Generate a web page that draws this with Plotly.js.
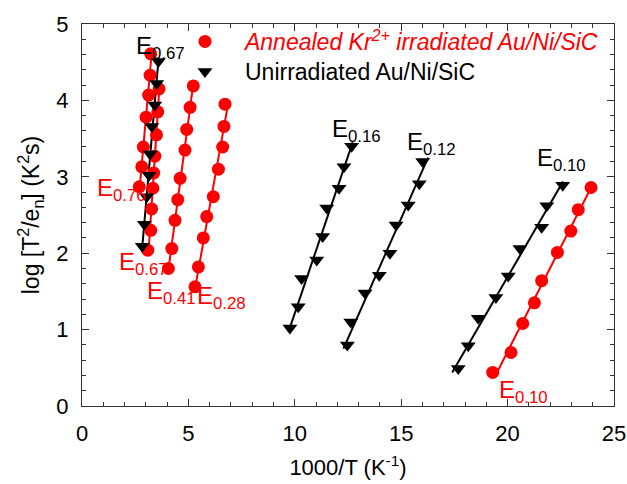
<!DOCTYPE html>
<html><head><meta charset="utf-8">
<script src="https://cdn.plot.ly/plotly-3.0.1.min.js"></script>
<style>html,body{margin:0;padding:0;background:#fff;}#chart{width:627px;height:484px;}</style>
</head><body><div id="chart"></div>
<script>
// Annealed Kr2+ irradiated (red circles)
const redE076_x = [2.69, 2.81, 2.88, 3.01, 3.13, 3.20, 3.23];
const redE076_y = [2.87, 3.13, 3.39, 3.78, 4.07, 4.33, 4.61];
const redE067_x = [3.09, 3.23, 3.27, 3.33, 3.37, 3.42, 3.50, 3.56, 3.62];
const redE067_y = [2.04, 2.30, 2.58, 2.85, 3.05, 3.27, 3.55, 3.85, 4.15];
const redE041_x = [4.06, 4.22, 4.37, 4.50, 4.61, 4.84, 4.92, 5.08, 5.23];
const redE041_y = [1.80, 2.06, 2.43, 2.70, 2.98, 3.35, 3.62, 3.91, 4.19];
const redE028_x = [5.31, 5.47, 5.70, 5.86, 6.17, 6.41, 6.61, 6.67, 6.72];
const redE028_y = [1.56, 1.82, 2.20, 2.48, 2.74, 3.10, 3.39, 3.66, 3.95];
const redE010_x = [19.30, 20.16, 20.71, 21.26, 21.60, 22.34, 22.97, 23.32, 23.92];
const redE010_y = [0.44, 0.70, 1.08, 1.35, 1.64, 2.01, 2.29, 2.57, 2.86];
// Unirradiated (black triangles)
const blkE067_x = [2.83, 2.93, 3.04, 3.15, 3.20, 3.28, 3.42, 3.51, 3.59];
const blkE067_y = [2.09, 2.38, 2.74, 3.02, 3.30, 3.66, 3.94, 4.22, 4.51];
const blkE016_x = [9.77, 10.16, 10.32, 11.03, 11.31, 11.50, 12.08, 12.31, 12.67];
const blkE016_y = [1.02, 1.30, 1.67, 1.91, 2.22, 2.59, 2.85, 3.13, 3.40];
const blkE012_x = [12.47, 12.63, 13.30, 13.97, 14.47, 14.76, 15.33, 15.85, 16.01];
const blkE012_y = [0.80, 1.10, 1.48, 1.71, 2.00, 2.37, 2.63, 2.91, 3.20];
const blkE010_x = [17.68, 18.15, 18.62, 19.45, 20.03, 20.58, 21.60, 21.84, 22.59];
const blkE010_y = [0.49, 0.79, 1.15, 1.42, 1.70, 2.06, 2.34, 2.62, 2.89];

const legendNames = ['<span style="color:#ff0000"><i>Annealed Kr<sup>2+</sup> irradiated Au/Ni/SiC</i></span>', 'Unirradiated Au/Ni/SiC'];

const labelText = ['E<sub>0.67</sub>','E<sub>0.76</sub>','E<sub>0.67</sub>','E<sub>0.41</sub>','E<sub>0.28</sub>','E<sub>0.16</sub>','E<sub>0.12</sub>','E<sub>0.10</sub>','E<sub>0.10</sub>'];
const labelX = [2.45, 0.61, 1.66, 2.98, 5.31, 11.65, 15.18, 21.29, 19.50];
const labelY = [4.69, 2.83, 1.87, 1.49, 1.42, 3.61, 3.44, 3.22, 0.19];
const labelColor = ['#000','#f00','#f00','#f00','#f00','#000','#000','#000','#f00'];

const RED = '#ff0000', BLK = '#000000';
const series = [
  {x: redE076_x, y: redE076_y, c: RED, sym: 'circle'},
  {x: redE067_x, y: redE067_y, c: RED, sym: 'circle'},
  {x: redE041_x, y: redE041_y, c: RED, sym: 'circle'},
  {x: redE028_x, y: redE028_y, c: RED, sym: 'circle'},
  {x: redE010_x, y: redE010_y, c: RED, sym: 'circle'},
  {x: blkE067_x, y: blkE067_y, c: BLK, sym: 'triangle-down'},
  {x: blkE016_x, y: blkE016_y, c: BLK, sym: 'triangle-down'},
  {x: blkE012_x, y: blkE012_y, c: BLK, sym: 'triangle-down'},
  {x: blkE010_x, y: blkE010_y, c: BLK, sym: 'triangle-down'}
];

function fitLine(xs, ys) {
  // fit x = a + b*y (series are steep)
  const n = xs.length;
  let my = 0, mx = 0;
  for (let i = 0; i < n; i++) { my += ys[i]; mx += xs[i]; }
  my /= n; mx /= n;
  let sxy = 0, syy = 0;
  for (let i = 0; i < n; i++) { sxy += (ys[i]-my)*(xs[i]-mx); syy += (ys[i]-my)*(ys[i]-my); }
  const b = sxy/syy, a = mx - b*my;
  const y0 = Math.min(...ys) - 0.05, y1 = Math.max(...ys) + 0.05;
  return {x: [a + b*y0, a + b*y1], y: [y0, y1]};
}

const traces = [];
series.forEach(s => {
  const f = fitLine(s.x, s.y);
  traces.push({x: f.x, y: f.y, mode: 'lines', line: {color: s.c, width: 2}, showlegend: false, hoverinfo: 'skip'});
});
let shownRed = false, shownBlk = false;
series.forEach(s => {
  const isRed = s.c === RED;
  let show = false;
  if (isRed && !shownRed) { show = true; shownRed = true; }
  if (!isRed && !shownBlk) { show = true; shownBlk = true; }
  traces.push({x: s.x, y: s.y, mode: 'markers', name: isRed ? legendNames[0] : legendNames[1],
    legend: isRed ? 'legend' : 'legend2', showlegend: show,
    marker: {color: s.c, symbol: s.sym, size: 13, line: {width: 0}}});
});

const FONT = 'Liberation Sans, Arial, sans-serif';
const annotations = labelText.map((t, i) => ({
  x: labelX[i], y: labelY[i], xref: 'x', yref: 'y', text: t, showarrow: false,
  xanchor: 'left', yanchor: 'middle', font: {size: 24, color: labelColor[i], family: FONT}
}));

const axisCommon = {
  showgrid: false, zeroline: false, showline: true, linecolor: '#333', linewidth: 1,
  mirror: 'allticks', ticks: 'inside', ticklen: 7, tickcolor: '#333', tickwidth: 1,
  tickfont: {size: 22, color: '#000', family: FONT},
  ticklabelstandoff: 8
};

const legendCommon = {xanchor: 'left', yanchor: 'top', bgcolor: 'rgba(0,0,0,0)',
  font: {size: 23, color: '#000', family: FONT}, itemwidth: 70, tracegroupgap: 0};

const layout = {
  width: 627, height: 484,
  margin: {l: 82, r: 13, t: 24, b: 78},
  paper_bgcolor: '#fff', plot_bgcolor: '#fff',
  font: {family: FONT, color: '#000'},
  xaxis: Object.assign({}, axisCommon, {range: [0, 25], dtick: 5, tick0: 0,
    minor: {dtick: 1, ticks: 'inside', ticklen: 4, tickcolor: '#333'},
    title: {text: '1000/T (K<sup>-1</sup>)', font: {size: 22}, standoff: 14}}),
  yaxis: Object.assign({}, axisCommon, {range: [0, 5], dtick: 1, tick0: 0,
    minor: {dtick: 0.2, ticks: 'inside', ticklen: 4, tickcolor: '#333'},
    title: {text: 'log [T<sup>2</sup>/e<sub>n</sub>] (K<sup>2</sup>s)', font: {size: 23}, standoff: 10}}),
  showlegend: true,
  legend: Object.assign({}, legendCommon, {x: 0.156, y: 1.0105}),
  legend2: Object.assign({}, legendCommon, {x: 0.156, y: 0.932}),
  annotations: annotations
};

Plotly.newPlot('chart', traces, layout, {displayModeBar: false, staticPlot: true});
</script></body></html>
